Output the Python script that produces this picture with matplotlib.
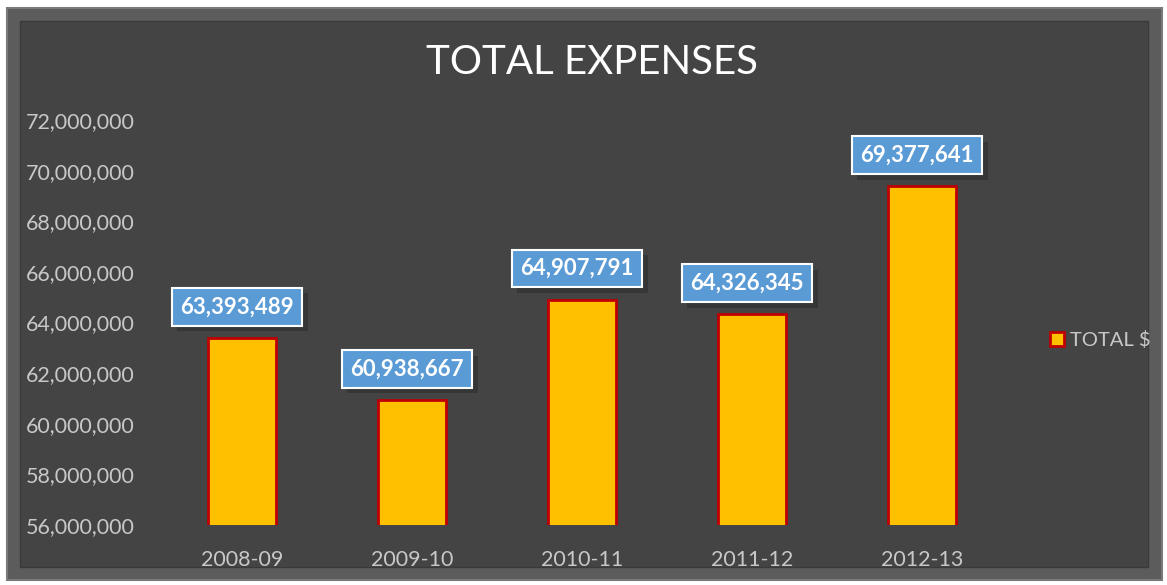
import matplotlib
matplotlib.use("Agg")
import matplotlib.pyplot as plt
import matplotlib.patheffects as pe
from matplotlib.patches import Rectangle
from matplotlib.ticker import FuncFormatter

years = ["2008-09", "2009-10", "2010-11", "2011-12", "2012-13"]
totals = [63393489, 60938667, 64907791, 64326345, 69377641]
series_name = "TOTAL $"
title = "TOTAL EXPENSES"

plt.rcParams['font.family'] = ['Lato', 'DejaVu Sans']

bg = "#444444"
txt = "#c8c8c8"

fig = plt.figure(figsize=(11.67, 5.85), dpi=100, facecolor="white")

# bevelled frame around the chart (drawn behind the axes)
fig.patches.append(Rectangle((7 / 1167, 5 / 585), 1155 / 1167, 572 / 585,
                             transform=fig.transFigure, facecolor="#5c5c5c",
                             edgecolor="#7a7a7a", lw=1.5, zorder=-5))
fig.patches.append(Rectangle((20 / 1167, 18 / 585), 1128 / 1167, 546 / 585,
                             transform=fig.transFigure, facecolor=bg,
                             edgecolor="#3a3a3a", lw=1, zorder=-4))

ax = fig.add_axes([157 / 1167, 60 / 585, 850 / 1167, 405 / 585])
ax.set_facecolor("none")
ax.set_zorder(2)

x = range(len(years))
bars = ax.bar(x, totals, width=0.4, color="#FFC000", edgecolor="#C00000",
              linewidth=2, label=series_name, zorder=2)

ax.set_xlim(-0.5, len(years) - 0.5)
ax.set_ylim(56000000, 72000000)
ax.set_yticks(range(56000000, 72000001, 2000000))
ax.yaxis.set_major_formatter(FuncFormatter(lambda v, p: f"{int(v):,}"))
ax.set_xticks(list(x))
ax.set_xticklabels(years)
ax.tick_params(axis="both", length=0, colors=txt, labelsize=15.5)
ax.tick_params(axis="y", pad=16)
ax.tick_params(axis="x", pad=18)
for s in ax.spines.values():
    s.set_visible(False)

# data labels: blue boxes with white border and a soft shadow
for i, v in enumerate(totals):
    t = ax.annotate(f"{v:,}", (i, v), xytext=(-5, 31), textcoords="offset pixels",
                    ha="center", va="center", fontsize=16, fontweight="bold",
                    color="white", zorder=4,
                    bbox=dict(boxstyle="square,pad=0.38", fc="#5B9BD5",
                              ec="white", lw=1.5))
    t.get_bbox_patch().set_path_effects([
        pe.SimplePatchShadow(offset=(4, -4), shadow_rgbFace="black", alpha=0.2),
        pe.Normal()])

fig.text(592 / 1167, 1 - 62 / 585, title, ha="center", va="center",
         fontsize=29, color="white")

leg = fig.legend(handles=[bars], labels=[series_name],
                 loc="center left", bbox_to_anchor=(1032 / 1167, 1 - 340 / 585),
                 frameon=False, fontsize=14.5, handlelength=0.7, handleheight=0.7,
                 handletextpad=0.3, labelcolor=txt)

fig.savefig("out.png", dpi=100, facecolor=fig.get_facecolor())
